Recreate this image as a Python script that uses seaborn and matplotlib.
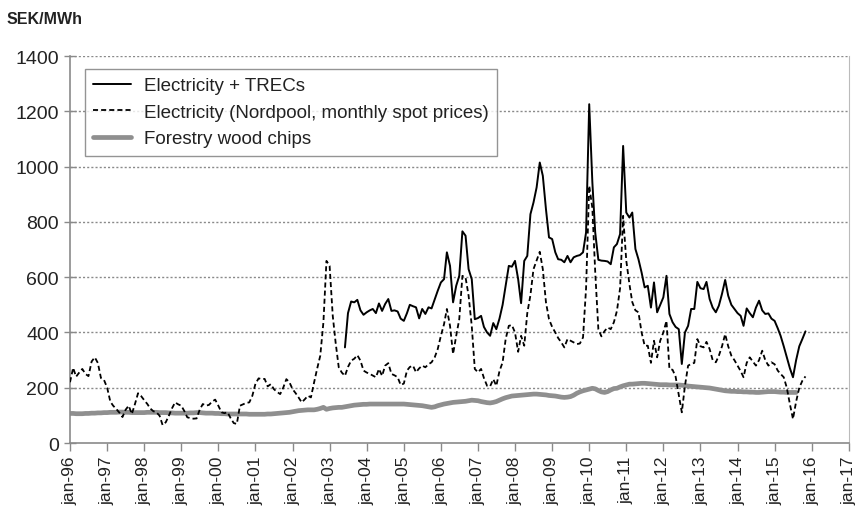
import matplotlib
matplotlib.use("Agg")
import matplotlib.pyplot as plt
import numpy as np
import pandas as pd
import seaborn as sns

# Monthly spot prices (Nordpool), SEK/MWh, Jan 1996 - Nov 2015
nordpool = [
    220, 272, 240, 255, 268, 250, 242, 295, 310, 290, 235, 228,   # 1996
    200, 150, 135, 123, 110, 94, 120, 135, 105, 140, 180, 170,    # 1997
    155, 141, 125, 115, 111, 99, 65, 75, 99, 125, 147, 140,       # 1998
    135, 115, 93, 90, 88, 89, 120, 141, 135, 138, 150, 157,       # 1999
    135, 111, 108, 111, 90, 72, 69, 135, 140, 145, 147, 171,      # 2000
    215, 234, 231, 232, 205, 213, 195, 185, 177, 200, 231, 220,   # 2001
    195, 180, 165, 147, 158, 171, 165, 219, 270, 316, 437, 659,   # 2002
    641, 460, 364, 274, 255, 243, 275, 298, 305, 318, 298, 262,   # 2003
    255, 250, 244, 238, 268, 243, 280, 289, 250, 245, 238, 210,   # 2004
    215, 262, 275, 280, 256, 270, 280, 274, 285, 292, 310, 340,   # 2005
    388, 430, 485, 424, 322, 388, 448, 605, 599, 533, 424, 268,   # 2006
    256, 268, 235, 207, 205, 231, 207, 260, 292, 376, 424, 427,   # 2007
    400, 330, 388, 352, 470, 535, 629, 660, 692, 629, 509, 448,   # 2008
    420, 400, 380, 364, 346, 376, 370, 364, 358, 360, 382, 560,   # 2009
    931, 850, 620, 412, 386, 405, 418, 412, 437, 478, 560, 822,   # 2010
    660, 575, 510, 480, 473, 400, 352, 352, 290, 370, 310, 370,   # 2011
    400, 442, 268, 265, 240, 175, 111, 207, 280, 286, 290, 376,   # 2012
    350, 346, 366, 340, 300, 292, 316, 350, 394, 350, 316, 300,   # 2013
    280, 260, 238, 290, 310, 295, 280, 300, 334, 300, 280, 292,   # 2014
    285, 262, 250, 238, 200, 140, 87, 150, 200, 225, 241,         # 2015
]

# Electricity plus tradable renewable energy certificates, Jun 2003 - Nov 2015
trecs = [
    346, 470, 512, 509, 518, 480, 464,                            # 2003
    473, 480, 485, 470, 505, 478, 503, 521, 478, 480, 476, 450,   # 2004
    442, 470, 500, 495, 491, 451, 485, 467, 491, 487, 520, 551,   # 2005
    581, 593, 690, 641, 509, 569, 605, 766, 750, 629, 593, 448,   # 2006
    452, 460, 420, 400, 388, 434, 412, 450, 500, 569, 641, 638,   # 2007
    659, 593, 506, 659, 677, 828, 870, 925, 1015, 967, 846, 744,  # 2008
    738, 690, 665, 663, 654, 677, 654, 672, 677, 680, 690, 762,   # 2009
    1226, 943, 762, 663, 660, 659, 657, 647, 708, 720, 756, 1075, # 2010
    834, 816, 834, 702, 665, 617, 563, 569, 490, 581, 473, 500,   # 2011
    527, 605, 467, 437, 420, 412, 286, 400, 424, 485, 485, 583,   # 2012
    560, 557, 583, 521, 490, 473, 497, 540, 590, 533, 500, 485,   # 2013
    470, 460, 424, 487, 470, 455, 490, 515, 480, 467, 469, 450,   # 2014
    442, 415, 388, 350, 310, 270, 238, 300, 350, 376, 404,        # 2015
]

# Forestry wood chips, Jan 1996 - Aug 2015
wood_chips = [
    107, 107, 106, 106, 106, 107, 107, 108, 108, 109, 109, 110,   # 1996
    110, 111, 111, 111, 112, 112, 111, 111, 110, 110, 110, 110,   # 1997
    110, 111, 111, 111, 111, 110, 110, 110, 109, 109, 108, 108,   # 1998
    108, 108, 108, 109, 109, 110, 110, 109, 108, 108, 108, 107,   # 1999
    107, 106, 106, 105, 105, 105, 105, 105, 105, 105, 104, 104,   # 2000
    104, 104, 104, 104, 105, 105, 106, 107, 108, 109, 110, 111,   # 2001
    113, 115, 117, 118, 119, 120, 120, 120, 122, 125, 129, 122,   # 2002
    125, 127, 128, 129, 129, 131, 133, 135, 137, 138, 139, 140,   # 2003
    140, 141, 141, 141, 141, 141, 141, 141, 141, 141, 141, 141,   # 2004
    141, 140, 139, 138, 137, 136, 135, 133, 131, 129, 131, 135,   # 2005
    138, 141, 143, 145, 147, 148, 149, 150, 151, 153, 155, 154,   # 2006
    153, 150, 148, 146, 145, 147, 150, 155, 160, 164, 167, 170,   # 2007
    171, 172, 173, 174, 175, 176, 177, 177, 176, 175, 174, 172,   # 2008
    171, 170, 168, 166, 165, 166, 168, 173, 180, 185, 189, 192,   # 2009
    195, 198, 196, 190, 185, 183, 186, 192, 197, 198, 203, 207,   # 2010
    210, 213, 213, 214, 215, 216, 216, 215, 214, 213, 212, 211,   # 2011
    211, 211, 210, 210, 210, 210, 209, 208, 206, 205, 204, 203,   # 2012
    202, 201, 200, 199, 197, 195, 193, 191, 189, 188, 187, 187,   # 2013
    186, 186, 185, 185, 184, 184, 183, 183, 184, 185, 186, 186,   # 2014
    186, 185, 184, 184, 183, 183, 183, 183,                       # 2015
]

series_labels = [
    "Electricity + TRECs",
    "Electricity (Nordpool, monthly spot prices)",
    "Forestry wood chips",
]
tick_years = list(range(1996, 2018))
y_ticks = [0, 200, 400, 600, 800, 1000, 1200, 1400]

df_nord = pd.DataFrame({"date": pd.date_range("1996-01-01", periods=len(nordpool), freq="MS"),
                        "price": nordpool})
df_trecs = pd.DataFrame({"date": pd.date_range("2003-06-01", periods=len(trecs), freq="MS"),
                         "price": trecs})
df_wood = pd.DataFrame({"date": pd.date_range("1996-01-01", periods=len(wood_chips), freq="MS"),
                        "price": wood_chips})

sns.set_theme(style="white")
plt.rcParams["font.family"] = ["Liberation Sans", "DejaVu Sans"]

fig = plt.figure(figsize=(8.6, 5.1), dpi=100)
ax = fig.add_axes([0.0814, 0.1294, 0.9056, 0.7586])

sns.lineplot(data=df_wood, x="date", y="price", ax=ax, color="#8f8f8f",
             linewidth=3.4, label=series_labels[2], zorder=2)
sns.lineplot(data=df_nord, x="date", y="price", ax=ax, color="black",
             linewidth=1.3, linestyle=(0, (2.8, 1.7)), label=series_labels[1], zorder=3)
sns.lineplot(data=df_trecs, x="date", y="price", ax=ax, color="black",
             linewidth=1.4, label=series_labels[0], zorder=4)

ax.set_xlim(pd.Timestamp("1996-01-01"), pd.Timestamp("2017-01-01"))
ax.set_ylim(0, 1400)
ax.set_xticks([pd.Timestamp(f"{y}-01-01") for y in tick_years])
ax.set_xticklabels([f"jan-{y % 100:02d}" for y in tick_years], rotation=90,
                   fontsize=12.5, color="#222222")
ax.set_yticks(y_ticks)
ax.set_yticklabels([str(v) for v in y_ticks], fontsize=14, color="#222222")
ax.set_xlabel("")
ax.set_ylabel("")

for v in y_ticks[1:]:
    ax.axhline(v, color="#8a8a8a", linewidth=1.0, linestyle=(0, (1.5, 1.5)), zorder=1)

for side in ["left", "bottom", "right"]:
    ax.spines[side].set_visible(True)
    ax.spines[side].set_color("#8a8a8a")
    ax.spines[side].set_linewidth(1.2)
ax.spines["right"].set_linewidth(0.8)
ax.spines["right"].set_color("#bbbbbb")
ax.spines["top"].set_visible(False)

ax.tick_params(axis="x", direction="out", length=6, width=1, color="#8a8a8a",
               bottom=True, pad=3)
ax.tick_params(axis="y", direction="inout", length=8, width=1, color="#8a8a8a",
               left=True, pad=4)

handles, labels = ax.get_legend_handles_labels()
order = [labels.index(l) for l in series_labels]
leg = ax.legend([handles[i] for i in order], [labels[i] for i in order],
                loc="upper left", bbox_to_anchor=(0.019, 0.967), borderaxespad=0,
                fontsize=13.5, frameon=True, fancybox=False, edgecolor="#7a7a7a",
                labelspacing=0.5, handlelength=2.0, handletextpad=0.7,
                borderpad=0.45)
leg.get_frame().set_linewidth(1.0)
for t in leg.get_texts():
    t.set_color("#222222")

fig.text(0.008, 0.962, "SEK/MWh", fontsize=11.5, fontweight="bold",
         ha="left", va="center", color="#222222")

fig.savefig("out.png", dpi=100, facecolor="white")
